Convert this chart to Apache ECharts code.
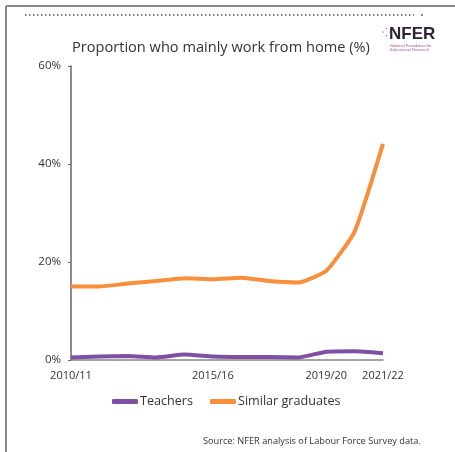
<!DOCTYPE html>
<html><head><meta charset="utf-8">
<script src="https://cdn.jsdelivr.net/npm/echarts@6/dist/echarts.min.js"></script>
<style>html,body{margin:0;padding:0;background:#fff}#c{width:455px;height:452px}</style>
</head><body><div id="c"></div>
<script>
const categories = ['2010/11','2011/12','2012/13','2013/14','2014/15','2015/16','2016/17','2017/18','2018/19','2019/20','2020/21','2021/22'];
const shownLabels = ['2010/11','2015/16','2019/20','2021/22'];
const teachers = [0.5,0.7,0.8,0.5,1.1,0.7,0.6,0.6,0.5,1.7,1.8,1.4];
const graduates = [15.0,15.0,15.6,16.1,16.7,16.5,16.8,16.1,15.8,18.2,26.2,44.1];
const yTicks = [0,20,40,60];

const chart = echarts.init(document.getElementById('c'));
const font = 'Open Sans';
chart.setOption({
  animation:false,
  textStyle:{fontFamily:font},
  title:{text:'Proportion who mainly work from home (%)',left:67,top:35,
    textStyle:{fontSize:14.6,fontWeight:'normal',color:'#333',fontFamily:font}},
  grid:{left:71,right:72,top:66,bottom:92,containLabel:false},
  xAxis:{type:'category',data:categories,boundaryGap:false,
    axisLine:{lineStyle:{color:'#888',width:1.5}},axisTick:{show:false},
    axisLabel:{color:'#333',fontSize:11,margin:10,fontFamily:font,
      interval:(i,v)=>shownLabels.includes(v)}},
  yAxis:{type:'value',min:yTicks[0],max:yTicks[yTicks.length-1],interval:20,
    axisLine:{show:true,lineStyle:{color:'#666',width:1.5}},
    axisTick:{show:true,length:3,lineStyle:{color:'#666'}},
    splitLine:{show:false},
    axisLabel:{formatter:'{value}%',color:'#333',fontSize:11.5,margin:10,fontFamily:font}},
  legend:{left:107,top:390,itemWidth:26,itemHeight:5,itemGap:17,icon:'roundRect',
    textStyle:{fontSize:12.6,color:'#333',padding:[0,0,0,-3],fontFamily:font}},
  series:[
    {name:'Teachers',type:'line',data:teachers,showSymbol:false,smooth:0.15,
      lineStyle:{width:4,color:'#7f4fa3'},itemStyle:{color:'#7f4fa3'}},
    {name:'Similar graduates',type:'line',data:graduates,showSymbol:false,smooth:0.15,
      lineStyle:{width:4,color:'#f98f3d'},itemStyle:{color:'#f98f3d'}}
  ],
  graphic:[
    {type:'line',shape:{x1:6,y1:6,x2:455,y2:6},style:{stroke:'#8a8a8a',lineWidth:2}},
    {type:'line',shape:{x1:6,y1:6,x2:6,y2:452},style:{stroke:'#8a8a8a',lineWidth:2}},
    {type:'line',shape:{x1:25,y1:15,x2:414,y2:15},style:{stroke:'#555',lineWidth:1.5,lineDash:[1.5,2.5]}},
    {type:'circle',shape:{cx:422,cy:15,r:0.9},style:{fill:'#555'}},
    {type:'text',left:389,top:26,style:{text:'NFER',fontSize:17,fontWeight:'bold',fill:'#2e2236',fontFamily:'Liberation Sans'}},
    {type:'text',x:382,y:27,style:{text:'⁘',fontSize:11,fill:'#9b59b6'}},
    {type:'text',x:390,y:44,style:{text:'National Foundation for',fontSize:4,fill:'#a0589e'}},
    {type:'text',x:390,y:48,style:{text:'Educational Research',fontSize:4,fill:'#a0589e'}},
    {type:'text',x:203,y:437,style:{text:'Source: NFER analysis of Labour Force Survey data.',fontSize:9.2,fill:'#333',fontFamily:font}}
  ]
});
</script></body></html>
